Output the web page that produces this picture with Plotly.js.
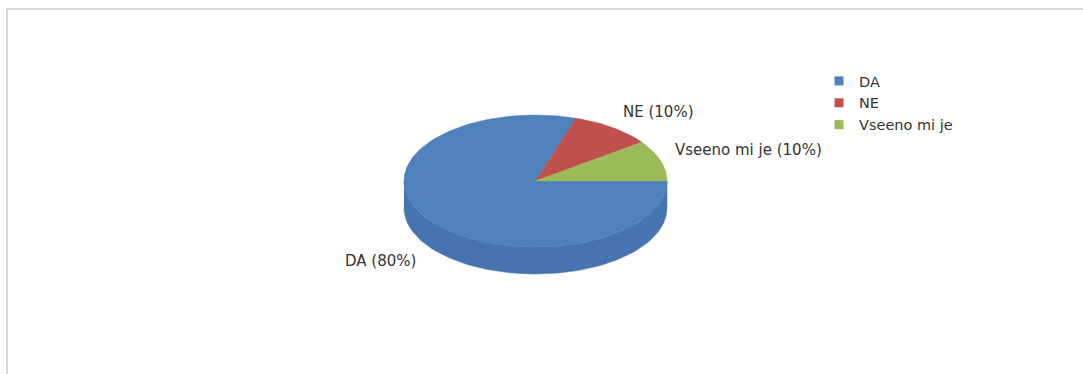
<!DOCTYPE html>
<html>
<head>
<meta charset="utf-8">
<script src="https://cdn.plot.ly/plotly-3.0.1.min.js"></script>
<style>
  html, body { margin: 0; padding: 0; background: #ffffff; }
  #chart { width: 1083px; height: 374px; }
</style>
</head>
<body>
<div id="chart"></div>
<script>
// Survey answers and their shares (percent)
const categories = ['DA', 'NE', 'Vseeno mi je'];
const values = [80, 10, 10];
const topColors = ['#4F81BD', '#C0504D', '#9BBB59'];
const sideColors = ['#4674B0', '#AD4744', '#8BA84F'];

// Geometry of the tilted pie, in pixel units of the axes
const W = 1083, H = 374;
const cx = 535.5, cy = 181, rx = 131.5, ry = 66, depth = 27;
const FONT = 'DejaVu Sans, Verdana, sans-serif';

const total = values.reduce((a, b) => a + b, 0);
const rad = d => d * Math.PI / 180;

function arc(a0, a1, dy, n) {
  const xs = [], ys = [];
  for (let k = 0; k <= n; k++) {
    const a = rad(a0 + (a1 - a0) * k / n);
    xs.push(cx + rx * Math.cos(a));
    ys.push(cy - ry * Math.sin(a) + dy);
  }
  return { xs, ys };
}

// Slices run clockwise from 3 o'clock
const slices = [];
let cum = 0;
values.forEach((v, i) => {
  const start = -cum / total * 360;
  const end = -(cum + v) / total * 360;
  slices.push({ i, start, end, mid: (start + end) / 2 });
  cum += v;
});

const traces = [];

// Front walls (only the half facing the viewer is visible)
slices.forEach(s => {
  const lo = Math.min(s.start, s.end), hi = Math.max(s.start, s.end);
  for (let k = -2; k <= 1; k++) {
    const f0 = -180 + 360 * k, f1 = 360 * k;
    const a = Math.max(lo, f0), b = Math.min(hi, f1);
    if (b - a <= 0.01) continue;
    const n = Math.max(4, Math.ceil((b - a) / 2));
    const top = arc(a, b, 0, n);
    const bot = arc(b, a, depth, n);
    traces.push({
      type: 'scatter', mode: 'lines',
      x: top.xs.concat(bot.xs), y: top.ys.concat(bot.ys),
      fill: 'toself', fillcolor: sideColors[s.i],
      line: { color: sideColors[s.i], width: 0.5 },
      hoverinfo: 'skip', showlegend: false
    });
  }
});

// Top faces
slices.forEach(s => {
  const n = Math.max(4, Math.ceil(Math.abs(s.end - s.start) / 2));
  const a = arc(s.start, s.end, 0, n);
  traces.push({
    type: 'scatter', mode: 'lines',
    x: [cx].concat(a.xs, [cx]), y: [cy].concat(a.ys, [cy]),
    fill: 'toself', fillcolor: topColors[s.i],
    line: { color: topColors[s.i], width: 0.5 },
    hoverinfo: 'skip', showlegend: false
  });
});

// Legend entries
categories.forEach((c, i) => {
  traces.push({
    type: 'scatter', mode: 'markers', name: c,
    x: [null], y: [null], legendgroup: c,
    marker: { symbol: 'square', size: 9, color: topColors[i] },
    hoverinfo: 'skip', showlegend: true
  });
});

// Outside labels with category and share
const annotations = slices.map(s => {
  const m = rad(s.mid);
  const sn = Math.sin(m);
  const front = sn < 0;
  return {
    xref: 'x', yref: 'y',
    x: cx + rx * 1.1 * Math.cos(m),
    y: cy - ry * 1.15 * sn - 8 * Math.sign(sn) + (front ? depth : 0),
    text: categories[s.i] + ' (' + Math.round(values[s.i] / total * 100) + '%)',
    showarrow: false,
    xanchor: Math.cos(m) >= 0 ? 'left' : 'right',
    yanchor: 'middle',
    font: { family: FONT, size: 15, color: '#333333' }
  };
});

const layout = {
  width: W, height: H,
  margin: { l: 0, r: 0, t: 0, b: 0 },
  paper_bgcolor: '#ffffff', plot_bgcolor: '#ffffff',
  xaxis: { range: [0, W], visible: false, fixedrange: true },
  yaxis: { range: [H, 0], visible: false, fixedrange: true },
  hovermode: false,
  showlegend: true,
  legend: {
    x: 819 / W, y: 1 - 65 / H, xanchor: 'left', yanchor: 'top',
    bgcolor: 'rgba(0,0,0,0)', borderwidth: 0,
    traceorder: 'grouped', tracegroupgap: 0,
    font: { family: FONT, size: 14.5, color: '#333333' }
  },
  annotations,
  shapes: [{
    type: 'path', xref: 'x', yref: 'y',
    path: 'M 7 ' + H + ' L 7 9 L ' + W + ' 9',
    line: { color: '#dadada', width: 2 }
  }]
};

Plotly.newPlot('chart', traces, layout, { displayModeBar: false, staticPlot: true });
</script>
</body>
</html>
